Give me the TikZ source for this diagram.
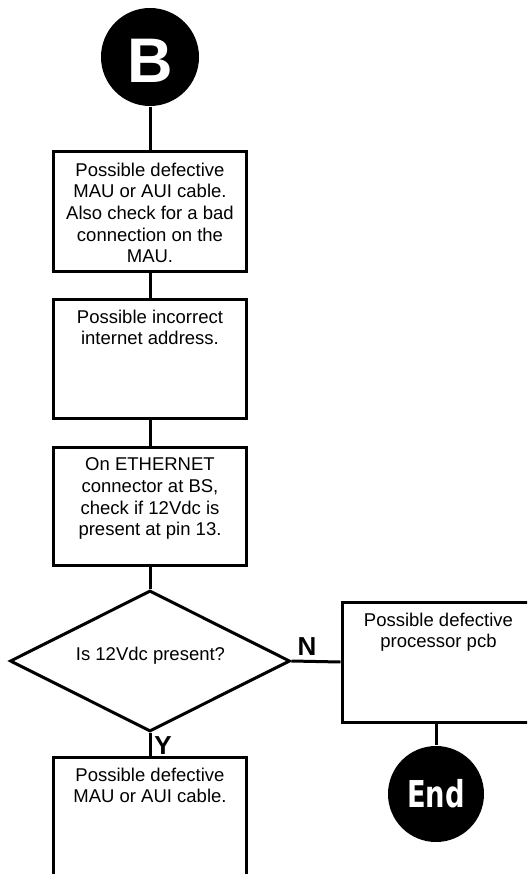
\documentclass[tikz,border=0pt]{standalone}
\usepackage{fontspec}
\setmainfont{Liberation Sans}
\newfontfamily\condfont{DejaVu Sans Condensed}
\usetikzlibrary{shapes.geometric}
\begin{document}
\begin{tikzpicture}[x=1pt,y=-1pt,
  line width=3pt,
  boxnode/.style={draw=black,rectangle,minimum width=193pt,inner sep=0pt},
  boxtext/.style={anchor=north,align=center,inner sep=0pt,yshift=-10.7pt,font=\fontsize{18.5}{21.7}\selectfont},
  termnode/.style={circle,fill=black,minimum size=98pt,inner sep=0pt,text=white,text depth=0pt},
  yn/.style={font=\fontsize{26}{26}\selectfont\bfseries,inner sep=0pt},
  conn/.style={draw=black,line width=3pt}]
\useasboundingbox (0,0) rectangle (527,874);
\clip (0,0) rectangle (527,874);
\fill[white] (0,0) rectangle (527,874);
% terminator B
\node[termnode,text height=52pt,font=\fontsize{63}{63}\selectfont\bfseries] (B) at (150,57) {B};
% boxes
\node[boxnode,minimum height=120pt] (box1) at (150,212) {};
\node[boxnode,minimum height=119pt] (box2) at (150,358.5) {};
\node[boxnode,minimum height=118pt] (box3) at (150,506) {};
\node[draw=black,diamond,aspect=1.99,minimum width=280pt,minimum height=141pt,inner sep=0pt] (dec) at (150,661) {};
\node[boxnode,minimum height=120pt] (rbox) at (438.5,662) {};
\node[boxnode,minimum height=150pt] (bbox) at (150,832) {};
\node[termnode,minimum size=96pt,text height=27pt,font=\condfont\fontsize{37}{37}\selectfont\bfseries] (End) at (436,794) {\scalebox{0.82}[1]{End}};
% texts
\node[boxtext] (t1) at (box1.north) {Possible defective\\MAU or AUI cable.\\Also check for a bad\\connection on the\\MAU.};
\node[boxtext] (t2) at (box2.north) {Possible incorrect\\internet address.};
\node[boxtext] (t3) at (box3.north) {On ETHERNET\\connector at BS,\\check if 12Vdc is\\present at pin 13.};
\node[anchor=base,inner sep=0pt,font=\fontsize{18.5}{21.7}\selectfont] (t4) at (150.5,660) {Is 12Vdc present?};
\node[boxtext] (t5) at (rbox.north) {Possible defective\\processor pcb};
\node[boxtext] (t6) at (bbox.north) {Possible defective\\MAU or AUI cable.};
\node[yn] (N) at (307,647) {N};
\node[yn] (Y) at (163,745.5) {Y};
% connectors
\draw[conn] (B) -- (box1.north);
\draw[conn] (box1) -- (box2);
\draw[conn] (box2) -- (box3);
\draw[conn] (box3.south) -- (dec.north);
\draw[conn] (dec.east) -- (rbox.west);
\draw[conn] (dec.south) -- (bbox.north);
\draw[conn] (End) -- (End |- rbox.south);
\end{tikzpicture}
\end{document}
